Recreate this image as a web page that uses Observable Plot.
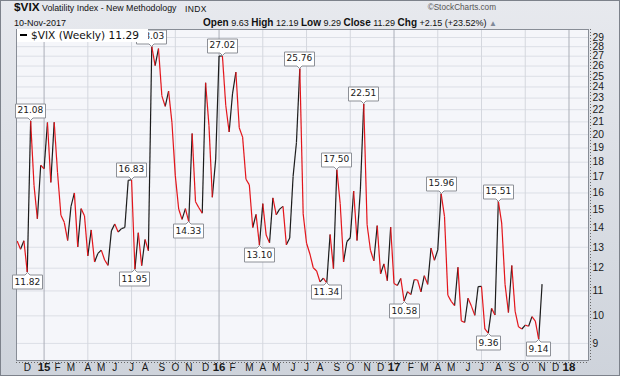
<!DOCTYPE html>
<html><head><meta charset="utf-8">
<script src="https://cdn.jsdelivr.net/npm/d3@7"></script>
<script src="https://cdn.jsdelivr.net/npm/@observablehq/plot@0.6"></script>
<style>
html,body{margin:0;padding:0;background:#fff;}
#wrap{position:relative;width:620px;height:376px;background:linear-gradient(#e7e9ee,#ced3db);overflow:hidden;font-family:"Liberation Sans",Arial,sans-serif;color:#111;}
#wrap svg{position:absolute;left:0;top:0;}
.hd{position:absolute;white-space:nowrap;line-height:1;}
#border{position:absolute;left:0;top:0;width:618px;height:374px;border:1px solid #7d828b;pointer-events:none;}
</style></head><body>
<div id="wrap">
  <div id="plot"></div>
  <div class="hd" style="left:14px;top:2px;font-weight:bold;font-size:11.8px;">$VIX</div>
  <div class="hd" style="left:42px;top:4px;font-size:8.8px;">Volatility Index - New Methodology</div>
  <div class="hd" style="left:185px;top:5px;font-size:8.5px;letter-spacing:0.4px;">INDX</div>
  <div class="hd" style="right:124px;top:4px;font-size:8.2px;color:#555;">©StockCharts.com</div>
  <div class="hd" style="left:14px;top:19px;font-size:9px;">10-Nov-2017</div>
  <div class="hd" id="ohlc" style="right:123px;top:18px;font-size:9px;"></div>
  <div class="hd" style="left:17px;top:29px;width:131px;height:13px;background:#fff;">
    <div style="position:absolute;left:3px;top:5px;width:7px;height:2px;background:#000;"></div>
    <div id="legtext" style="position:absolute;left:14px;top:1px;font-family:'DejaVu Sans';font-size:10.6px;"></div>
  </div>
  <div id="border"></div>
</div>
<script>
// ---- data ----
const startFriday = "2014-11-14";          // first weekly close shown
const seriesName = "$VIX (Weekly)";
const vix = [
  13.31,12.90,13.33,11.82,21.08,16.49,14.50,17.79,17.55,20.95,
  16.66,20.97,17.29,14.69,14.30,13.34,15.20,16.00,13.02,15.07,
  14.67,12.58,13.89,12.29,12.70,12.86,12.38,12.13,13.84,14.21,
  13.78,13.96,14.02,16.79,16.83,11.95,13.74,12.12,13.39,12.83,
  28.03,26.05,27.80,23.20,22.28,23.62,20.94,17.08,15.05,14.46,
  15.07,14.33,20.08,15.47,15.12,14.81,24.39,20.70,15.74,18.21,
  27.01,27.02,22.34,20.20,23.38,25.40,20.53,19.81,16.86,16.50,
  14.02,14.74,13.10,15.36,13.62,13.22,15.70,14.72,15.04,15.20,
  13.12,13.47,17.03,19.41,25.76,14.77,13.20,12.67,12.02,11.87,
  11.39,11.55,11.34,13.65,11.98,17.50,15.37,12.29,13.29,13.48,
  16.12,13.34,16.19,22.51,14.17,12.85,12.34,14.12,11.75,12.20,
  11.44,14.04,11.32,11.23,11.54,10.58,10.97,10.85,11.49,11.47,
  10.96,11.66,11.28,12.96,12.37,12.87,15.96,14.63,10.82,10.57,
  10.40,12.04,9.81,9.75,10.70,10.38,10.02,11.18,11.19,9.51,
  9.36,10.29,10.03,15.51,14.26,11.28,10.13,12.12,10.17,9.59,
  9.51,9.65,9.61,9.97,9.80,9.14,11.29
];
const peakWeeks = [4, 34, 40, 61, 84, 95, 103, 126, 143];
const troughWeeks = [3, 35, 51, 72, 92, 115, 140, 155];
const yTicks = [9,10,11,12,13,14,15,16,17,18,19,20,21,22,23,24,25,26,27,28,29];
const monthLetters = ["J","F","M","A","M","J","J","A","S","O","N","D"];
const quote = {open: "9.63", high: "12.19", low: "9.29", close: "11.29", chg: "+2.15", pct: "+23.52%"};
const axisWeeks = 170;   // weeks covered by the x axis
const labelWeeks = 166;  // month labels shown up to this week
const yDomain = [8.43, 29.9];

// ---- header text ----
document.getElementById("ohlc").innerHTML =
  `<b style="font-size:10px">Open</b> ${quote.open} <b style="font-size:10px">High</b> ${quote.high} <b style="font-size:10px">Low</b> ${quote.low} <b style="font-size:10px">Close</b> ${quote.close} <b style="font-size:10px">Chg</b> ${quote.chg} (${quote.pct}) <span style="color:#7f8a99;font-size:8px">▲</span>`;
document.getElementById("legtext").textContent = `${seriesName} ${vix[vix.length-1].toFixed(2)}`;

// ---- derived tables ----
const start = d3.timeParse("%Y-%m-%d")(startFriday);
const weekStart = i => d3.timeDay.offset(start, 7 * i - 4); // Monday of week i
const monthTicks = [];
for (let i = 1; i < axisWeeks; i++) {
  if (weekStart(i).getMonth() !== weekStart(i - 1).getMonth()) {
    const d = weekStart(i);
    monthTicks.push({i, m: d.getMonth(), y: d.getFullYear()});
  }
}
const labelMap = new Map(monthTicks.map(t => [t.i, t.m === 0 ? String(t.y % 100).padStart(2, "0") : monthLetters[t.m]]));
const monthIdx = monthTicks.filter(t => t.m !== 0 && t.i <= labelWeeks).map(t => t.i);
const yearIdx = monthTicks.filter(t => t.m === 0).map(t => t.i);
const quarterIdx = monthTicks.filter(t => t.m % 3 === 0 && t.m !== 0).map(t => t.i);

const segs = vix.slice(1).map((v, k) => ({i0: k, v0: vix[k], i1: k + 1, v1: v}));
const ups = segs.filter(s => s.v1 >= s.v0);
const downs = segs.filter(s => s.v1 < s.v0);
const peaks = peakWeeks.map(i => ({i, v: vix[i]}));
const troughs = troughWeeks.map(i => ({i, v: vix[i]}));

const tipStyle = {
  x: "i", y: "v", title: d => d.v.toFixed(2),
  fill: "white", stroke: "#8d9097", pointerSize: 5, textPadding: 2,
  fontSize: 9, fontFamily: "DejaVu Sans", textAnchor: "middle", pathFilter: "none"
};

const chart = Plot.plot({
  width: 620, height: 376,
  marginLeft: 16, marginRight: 32, marginTop: 29, marginBottom: 16,
  style: {background: "transparent", fontFamily: "Liberation Sans, Arial, sans-serif", fontSize: "10px", color: "#1a1a1a"},
  x: {type: "linear", domain: [-0.2, axisWeeks - 0.2]},
  y: {type: "log", domain: yDomain},
  marks: [
    Plot.frame({fill: "#f5f6fa", stroke: "none"}),
    Plot.ruleY(yTicks, {stroke: "#dcdfe6"}),
    Plot.ruleX(quarterIdx, {stroke: "#d4d7de"}),
    Plot.ruleX(yearIdx, {stroke: "#abafb8"}),
    Plot.link(ups, {x1: "i0", y1: "v0", x2: "i1", y2: "v1", stroke: "#1c1c1c", strokeWidth: 1.2}),
    Plot.link(downs, {x1: "i0", y1: "v0", x2: "i1", y2: "v1", stroke: "#e3151b", strokeWidth: 1.2}),
    Plot.frame({stroke: "#888d96"}),
    Plot.ruleX([axisWeeks - 0.2], {stroke: "#666", strokeDasharray: "1,2", dx: 2}),
    Plot.ruleY([yDomain[0]], {stroke: "#666", strokeDasharray: "1,2", dy: 2}),
    Plot.axisY(yTicks, {anchor: "right", tickSize: 0, tickPadding: 4, fontSize: 10.3, fill: "#1a1a1a"}),
    Plot.axisX(monthIdx, {tickSize: 0, tickPadding: 3, tickFormat: i => labelMap.get(i), fontSize: 10, fill: "#1a1a1a"}),
    Plot.axisX(yearIdx, {tickSize: 0, tickPadding: 2.5, tickFormat: i => labelMap.get(i), fontSize: 11.5, fontWeight: "bold", fill: "#1a1a1a"}),
    Plot.tip(peaks, {...tipStyle, anchor: "bottom"}),
    Plot.tip(troughs, {...tipStyle, anchor: "top"})
  ]
});
document.getElementById("plot").appendChild(chart);
</script>
</body></html>
